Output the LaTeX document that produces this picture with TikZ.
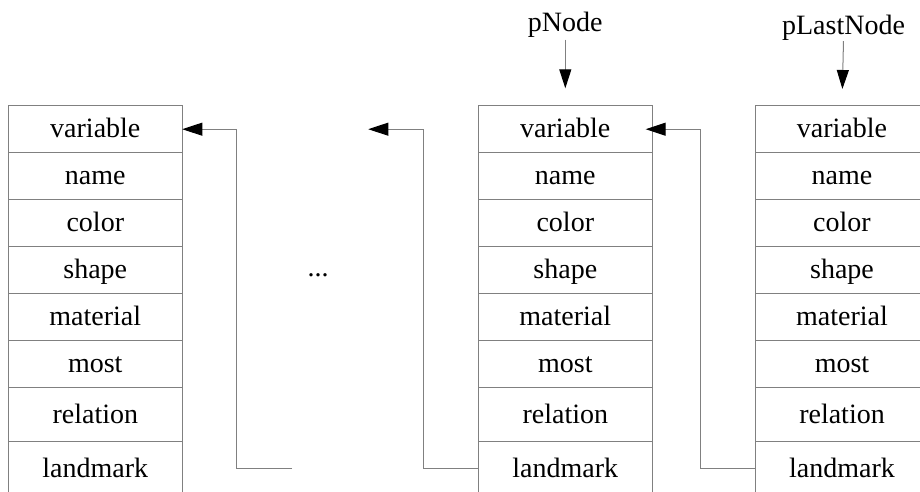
\documentclass[tikz,border=0pt]{standalone}
\usepackage{fontspec}
\setmainfont{Liberation Serif}
\usetikzlibrary{arrows.meta}
\definecolor{edgegray}{HTML}{808080}
\tikzset{
  cell/.style={draw=edgegray, line width=1pt, rectangle, anchor=north west,
    minimum width=174pt, minimum height=47pt, inner sep=0pt, outer sep=0pt,
    text height=20pt, text depth=3pt, font=\fontsize{28}{34}\selectfont},
  tallcell/.style={cell, minimum height=54pt},
  conn/.style={draw=edgegray, line width=1pt, -{Triangle[length=20pt,width=13pt,black]}},
  ptr/.style={draw=edgegray, line width=1pt, -{Triangle[length=19pt,width=12pt,black]}},
  lbl/.style={inner sep=0pt, outer sep=0pt, anchor=base, font=\fontsize{28}{34}\selectfont},
}
\begin{document}
\begin{tikzpicture}[x=1pt,y=-1pt]
\useasboundingbox (0,0) rectangle (920,491);
\clip (0,0) rectangle (920,491);
\foreach \c/\x in {L/8.3, M/478.3, R/755}{
  \foreach \t [count=\i] in {variable,name,color,shape,material,most}{
    \node[cell] (\c\i) at (\x, {105.7+47*(\i-1)}) {\t};
  }
  \node[tallcell] (\c7) at (\x, 387.7) {relation};
  \node[tallcell] (\c8) at (\x, 441.7) {landmark};
}
% pointer labels
\node[lbl] (pn) at (565.3, 31.7) {pNode};
\node[lbl] (pln) at (843.5, 34.3) {pLastNode};
\draw[ptr, shorten <=2pt, shorten >=17.4pt] (pn.south) -- (M1.north);
\draw[ptr, shorten <=0.8pt, shorten >=16.7pt] (pln.south) -- (R1.north);
% ellipsis
\node[lbl] (dots) at (318, 276) {...};
% links
\coordinate (gap1) at (292, 468.2);
\coordinate (gap2) at (368.3, 129.2);
\draw[conn] (gap1) -- ++(-55.3,0) |- (L1.east);
\draw[conn] (M8.west) -- ++(-55,0) |- (gap2);
\draw[conn] (R8.west) -- ++(-55,0) |- ([xshift=-6.7pt]M1.east);
\end{tikzpicture}
\end{document}
